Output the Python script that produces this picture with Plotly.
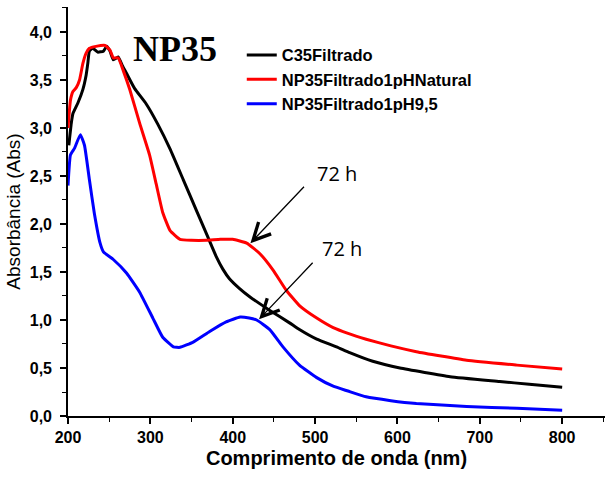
import plotly.graph_objects as go

# ---- data ----
wl_black = [201, 204, 206, 212, 218, 222, 224, 226, 230, 236, 243, 247, 251, 255, 259, 261,
            266, 271, 281, 295, 309, 324, 340, 356, 370, 380, 388, 396, 408, 421, 445, 469, 481, 502,
            526, 542, 570, 603, 664, 724, 760, 800]
abs_black = [2.82, 3.05, 3.15, 3.26, 3.40, 3.55, 3.67, 3.80, 3.83, 3.79, 3.80, 3.85, 3.80, 3.71, 3.73, 3.74,
             3.65, 3.57, 3.41, 3.25, 3.04, 2.78, 2.46, 2.14, 1.86, 1.66, 1.53, 1.43, 1.33, 1.24, 1.10, 0.97, 0.90, 0.80,
             0.72, 0.66, 0.57, 0.50, 0.41, 0.36, 0.33, 0.30]

wl_red = [200, 203, 206, 210, 214, 218, 222, 226, 234, 245, 251, 255, 261, 267, 275, 287, 299, 307,
          315, 324, 336, 350, 368, 385, 400, 417, 433, 449, 465, 481, 502, 522, 540, 562, 592, 623,
          684, 745, 800]
abs_red = [3.00, 3.29, 3.38, 3.42, 3.50, 3.67, 3.78, 3.83, 3.85, 3.86, 3.81, 3.73, 3.73, 3.60, 3.40, 3.05, 2.72, 2.42,
           2.12, 1.93, 1.84, 1.83, 1.83, 1.84, 1.84, 1.80, 1.69, 1.52, 1.31, 1.15, 1.02, 0.92, 0.86, 0.80, 0.73, 0.67,
           0.58, 0.53, 0.49]

wl_blue = [200, 203, 208, 215, 220, 226, 232, 239, 243, 255, 271, 287, 303, 315, 328, 336, 352, 372,
           392, 409, 420, 429, 445, 461, 481, 502, 522, 540, 562, 592, 623, 684, 745, 800]
abs_blue = [2.40, 2.72, 2.79, 2.93, 2.82, 2.46, 2.11, 1.80, 1.71, 1.63, 1.49, 1.29, 1.02, 0.82, 0.72, 0.715, 0.77, 0.88,
            0.98, 1.03, 1.02, 1.00, 0.90, 0.72, 0.53, 0.40, 0.31, 0.26, 0.20, 0.16, 0.13, 0.10, 0.08, 0.06]

series_names = ["C35Filtrado", "NP35Filtrado1pHNatural", "NP35Filtrado1pH9,5"]
series_colors = ["#000000", "#ff0000", "#0000ff"]

x_tickvals = [200, 300, 400, 500, 600, 700, 800]
x_ticktext = ["200", "300", "400", "500", "600", "700", "800"]
y_tickvals = [0.0, 0.5, 1.0, 1.5, 2.0, 2.5, 3.0, 3.5, 4.0]
y_ticktext = ["0,0", "0,5", "1,0", "1,5", "2,0", "2,5", "3,0", "3,5", "4,0"]

fig = go.Figure()
for wl, ab, nm, col in [(wl_black, abs_black, series_names[0], series_colors[0]),
                        (wl_red, abs_red, series_names[1], series_colors[1]),
                        (wl_blue, abs_blue, series_names[2], series_colors[2])]:
    fig.add_trace(go.Scatter(x=wl, y=ab, mode="lines", name=nm,
                             line=dict(color=col, width=3, shape="spline", smoothing=0.4)))

FONT = "Arial, Liberation Sans, sans-serif"

fig.update_layout(
    width=605, height=481,
    margin=dict(l=68, r=0, t=7, b=65),
    paper_bgcolor="white", plot_bgcolor="white",
    showlegend=True,
    legend=dict(x=0.3236, y=0.925, xanchor="left", yanchor="top",
                bgcolor="rgba(0,0,0,0)", borderwidth=0,
                font=dict(family=FONT, size=16.5, color="black", weight="bold"),
                tracegroupgap=0),
    xaxis=dict(range=[200, 852], showline=True, linecolor="black", linewidth=1.6,
               mirror=False, showgrid=False, zeroline=False,
               ticks="outside", ticklen=6, tickwidth=1.6, tickcolor="black",
               tickmode="array", tickvals=x_tickvals, ticktext=x_ticktext,
               tickfont=dict(family=FONT, size=16, color="black", weight="bold"),
               minor=dict(tickmode="array", tickvals=[250, 350, 450, 550, 650, 750, 850],
                          ticks="outside", ticklen=4, tickwidth=1.4, tickcolor="black"),
               title=dict(text="<b>Comprimento de onda (nm)</b>",
                          font=dict(family=FONT, size=20, color="black"),
                          standoff=6)),
    yaxis=dict(range=[0, 4.26], showline=True, linecolor="black", linewidth=1.6,
               mirror=False, showgrid=False, zeroline=False,
               ticks="outside", ticklen=6, tickwidth=1.6, tickcolor="black",
               tickmode="array", tickvals=y_tickvals, ticktext=y_ticktext,
               ticklabelstandoff=5,
               tickfont=dict(family=FONT, size=16, color="black", weight="bold"),
               minor=dict(tickmode="array", tickvals=[0.25, 0.75, 1.25, 1.75, 2.25, 2.75, 3.25, 3.75, 4.25],
                          ticks="outside", ticklen=4, tickwidth=1.4, tickcolor="black"),
               title=dict(text="Absorbância (Abs)",
                          font=dict(family=FONT, size=19, color="black"),
                          standoff=4)),
)

# Title inside plot
fig.add_annotation(text="<b>NP35</b>", xref="paper", yref="paper", x=0.1988, y=0.897,
                   xanchor="center", yanchor="middle", showarrow=False,
                   font=dict(family="Liberation Serif, Times New Roman, serif", size=36, color="black"))

# "72 h" labels
fig.add_annotation(text="72 h", xref="x", yref="y", x=(200 + (336.7 - 68.3) / 0.8233), y=(416 - 173.3) / 96,
                   showarrow=False, xanchor="center", yanchor="middle",
                   font=dict(family="Open Sans, Liberation Sans, sans-serif", size=20, color="black"))
fig.add_annotation(text="72 h", xref="x", yref="y", x=(200 + (341.7 - 68.3) / 0.8233), y=(416 - 248.3) / 96,
                   showarrow=False, xanchor="center", yanchor="middle",
                   font=dict(family="Open Sans, Liberation Sans, sans-serif", size=20, color="black"))

# arrows
fig.add_annotation(text="", xref="x", yref="y", x=421.5, y=1.80, ax=55, ay=-58,
                   showarrow=True, arrowhead=5, arrowsize=2.6, arrowwidth=1.3, arrowcolor="black")
fig.add_annotation(text="", xref="x", yref="y", x=432, y=1.007, ax=55, ay=-58,
                   showarrow=True, arrowhead=5, arrowsize=2.6, arrowwidth=1.3, arrowcolor="black")

fig.write_html("out.html")
